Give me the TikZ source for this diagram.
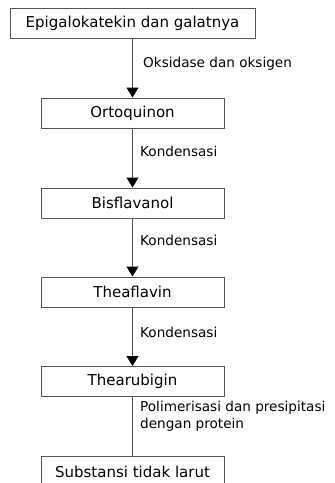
\documentclass[tikz,border=0pt]{standalone}
\usepackage{fontspec}
\setmainfont{DejaVu Sans}
\usetikzlibrary{arrows.meta}
\definecolor{lc}{HTML}{555555}
\tikzset{
  box/.style={draw=lc, line width=1pt, minimum height=30pt, inner sep=0pt, font=\fontsize{15}{17}\selectfont, text=black},
  conn/.style={draw=lc, line width=1pt, -{Triangle[length=10pt,width=12pt,fill=black,color=black]}},
  plain/.style={draw=lc, line width=1pt},
  lab/.style={anchor=west, inner sep=0pt, font=\fontsize{13.6}{17}\selectfont, align=left}
}
\begin{document}
\begin{tikzpicture}[x=1pt,y=1pt]
\useasboundingbox (0,0) rectangle (335,-483);
\node[box, minimum width=245pt] (a) at (132.5,-23) {Epigalokatekin dan galatnya};
\node[box, minimum width=183pt] (b) at (132.5,-113) {Ortoquinon};
\node[box, minimum width=183pt] (c) at (132.5,-203) {Bisflavanol};
\node[box, minimum width=183pt] (d) at (132.5,-292) {Theaflavin};
\node[box, minimum width=183pt] (e) at (132.5,-381.5) {Thearubigin};
\node[box, minimum width=183pt, minimum height=34pt, anchor=north] (f) at (132.5,-456) {};
\node[font=\fontsize{15}{17}\selectfont, inner sep=0pt] (ft) at (132.5,-472) {Substansi tidak larut};
\draw[conn] (a) -- (b);
\draw[conn] (b) -- (c);
\draw[conn] (c) -- (d);
\draw[conn] (d) -- (e);
\draw[plain] (e) -- (f);
\node[lab] (la) at (143,-64) {Oksidase dan oksigen};
\node[lab] (lb) at (140,-151) {Kondensasi};
\node[lab] (lc) at (140,-240) {Kondensasi};
\node[lab] (ld) at (140,-332) {Kondensasi};
\node[lab] (le) at (140,-416.5) {Polimerisasi dan presipitasi\\dengan protein};
\end{tikzpicture}
\end{document}
